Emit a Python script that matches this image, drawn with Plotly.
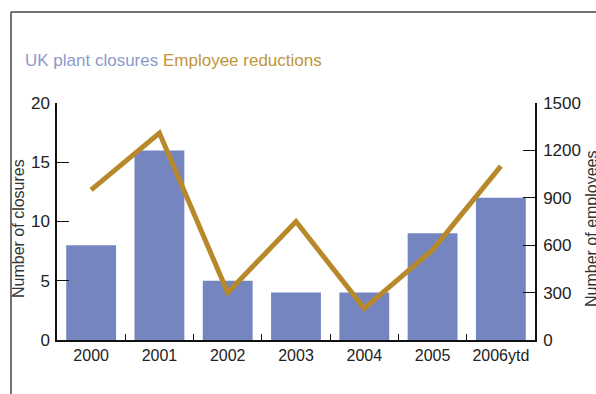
import plotly.graph_objects as go

years = ["2000", "2001", "2002", "2003", "2004", "2005", "2006ytd"]
closures = [8, 16, 5, 4, 4, 9, 12]
employees = [950, 1310, 300, 750, 200, 570, 1100]

W, H = 596, 394
L, R, T, B = 57, 61, 103, 54
pw, ph = W - L - R, H - T - B

def px_x(x):
    return (x - L) / pw

def px_y(y):
    return (H - B - y) / ph

FONT = "Liberation Sans, Arial, Helvetica, sans-serif"
BAR_C = "#7585c0"
LINE_C = "#b8892a"

fig = go.Figure()
fig.add_trace(go.Bar(x=years, y=closures, marker_color=BAR_C, marker_line_width=0,
                     yaxis="y", showlegend=False))
fig.add_trace(go.Scatter(x=years, y=employees, mode="lines", yaxis="y2",
                         line=dict(color=LINE_C, width=5), showlegend=False))

fig.update_layout(
    width=W, height=H,
    margin=dict(l=L, r=R, t=T, b=B),
    paper_bgcolor="white", plot_bgcolor="white",
    font=dict(family=FONT, size=14, color="#222"),
    bargap=0.27,
    xaxis=dict(showline=True, linecolor="#111", linewidth=1.5, ticks="inside",
               tickson="boundaries", ticklen=6, tickcolor="#111", showgrid=False,
               tickfont=dict(size=16, color="#222"), zeroline=False),
    yaxis=dict(range=[0, 20], dtick=5, showline=True, linecolor="#111", linewidth=1.5,
               ticks="inside", ticklen=12, tickcolor="#111", showgrid=False,
               zeroline=False, tickfont=dict(size=17, color="#222"),
               ticklabelstandoff=2),
    yaxis2=dict(range=[0, 1500], dtick=300, overlaying="y", side="right",
                showline=True, linecolor="#111", linewidth=1.5, ticks="inside",
                ticklen=12, tickcolor="#111", showgrid=False, zeroline=False,
                tickfont=dict(size=17, color="#222"), ticklabelstandoff=3),
)

# Frame lines along the top and left edges
fig.add_shape(type="line", xref="paper", yref="paper",
              x0=px_x(11), x1=px_x(600), y0=px_y(12), y1=px_y(12),
              line=dict(color="#444", width=1.5))
fig.add_shape(type="line", xref="paper", yref="paper",
              x0=px_x(11), x1=px_x(11), y0=px_y(12), y1=px_y(400),
              line=dict(color="#444", width=1.5))

# Legend as coloured header text
fig.add_annotation(xref="paper", yref="paper", x=px_x(23), y=px_y(60),
                   xanchor="left", yanchor="middle", showarrow=False,
                   text=f"<span style='color:#8c9acb'>UK plant closures</span> "
                        f"<span style='color:#c0963c'>Employee reductions</span>",
                   font=dict(size=17, family=FONT))

# Axis titles
fig.add_annotation(xref="paper", yref="paper", x=px_x(18), y=px_y(229),
                   xanchor="center", yanchor="middle", showarrow=False,
                   textangle=-90, text="Number of closures",
                   font=dict(size=16, color="#333", family=FONT))
fig.add_annotation(xref="paper", yref="paper", x=px_x(591), y=px_y(229),
                   xanchor="center", yanchor="middle", showarrow=False,
                   textangle=-90, text="Number of employees",
                   font=dict(size=16, color="#333", family=FONT))

fig.write_html("out.html")
